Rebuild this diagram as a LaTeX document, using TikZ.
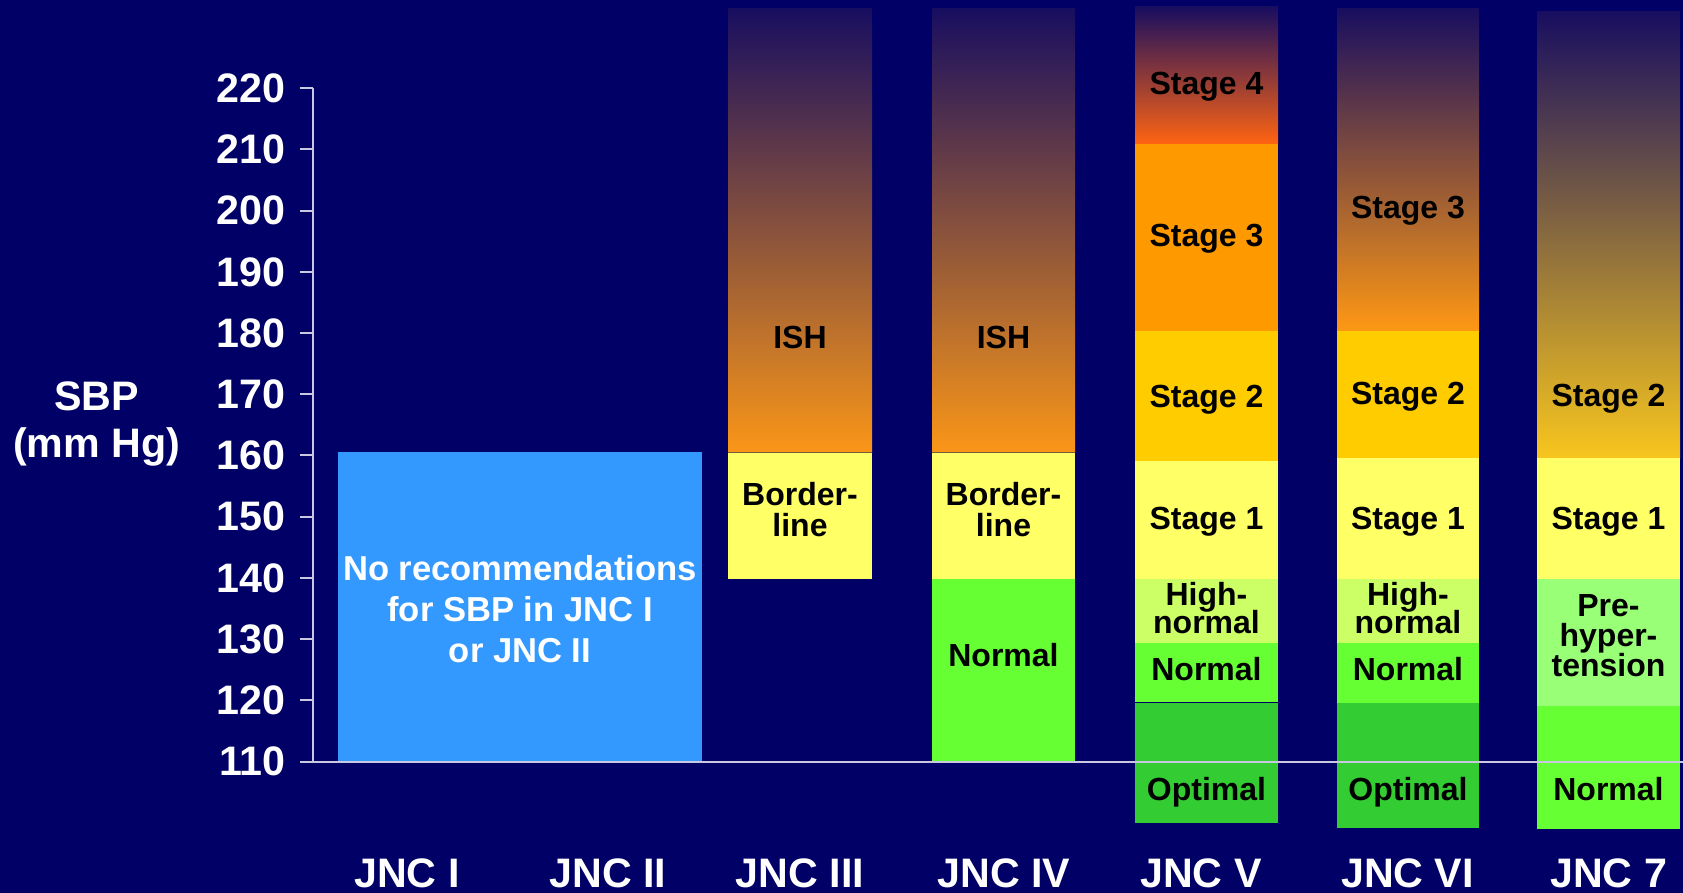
\documentclass[tikz,border=0pt]{standalone}
\usepackage{fontspec}
\setmainfont{Liberation Sans}
\definecolor{bg}{RGB}{0,0,102}
\definecolor{axisc}{RGB}{200,200,225}
\definecolor{nobox}{RGB}{51,153,255}
\definecolor{gtop}{RGB}{24,14,96}
\definecolor{ishmid}{RGB}{182,106,80}
\definecolor{ishbot}{RGB}{250,150,24}
\definecolor{s4mid}{RGB}{190,74,80}
\definecolor{s4bot}{RGB}{255,100,18}
\definecolor{s3}{RGB}{255,153,0}
\definecolor{s3mid}{RGB}{160,98,86}
\definecolor{s3bot}{RGB}{255,152,20}
\definecolor{s2}{RGB}{255,204,0}
\definecolor{s2mid}{RGB}{145,118,90}
\definecolor{s2bot}{RGB}{248,198,30}
\definecolor{s1}{RGB}{255,255,102}
\definecolor{hn}{RGB}{204,255,102}
\definecolor{nrm}{RGB}{102,255,51}
\definecolor{opt}{RGB}{51,204,51}
\definecolor{pre}{RGB}{153,255,119}
\definecolor{edge}{RGB}{120,90,60}
\begin{document}
\begin{tikzpicture}[x=0.5pt,y=-0.5pt,
  lbl/.style={font=\fontsize{16}{16}\selectfont\bfseries, text=black, inner sep=0pt, anchor=base},
  wlbl/.style={font=\fontsize{17.3}{20}\selectfont\bfseries, text=white, inner sep=0pt, anchor=base},
  ticklbl/.style={font=\fontsize{20.6}{24}\selectfont\bfseries, text=white, inner sep=0pt, anchor=east},
  axlbl/.style={font=\fontsize{20.6}{24}\selectfont\bfseries, text=white, inner sep=0pt, anchor=base},
  axisline/.style={draw=axisc, line width=1pt},
  sepline/.style={draw=edge, line width=0.5pt}]
\useasboundingbox (0,0) rectangle (1683,893);
\fill[bg] (0,0) rectangle (1683,893);

% JNC I / II
\fill[nobox] (338,452.3) rectangle (702,760.7);
\node[wlbl] (no1) at (520,580) {No recommendations};
\node[wlbl] (no2) at (520,621) {for SBP in JNC I};
\node[wlbl] (no3) at (520,662.7) {or JNC II};

% JNC III
\shade[top color=gtop, middle color=ishmid, bottom color=ishbot] (728,8.3) rectangle (872,452.5);
\fill[s1] (728,452.5) rectangle (872,578.5);
\draw[sepline] (728,452.5) -- (872,452.5);
\node[lbl] (ish3) at (800,348.3) {ISH};
\node[lbl] (bl3a) at (800,505) {Border-};
\node[lbl] (bl3b) at (800,536.7) {line};

% JNC IV
\shade[top color=gtop, middle color=ishmid, bottom color=ishbot] (932,8.3) rectangle (1075,452.5);
\fill[s1] (932,452.5) rectangle (1075,578.5);
\fill[nrm] (932,578.5) rectangle (1075,761.5);
\draw[sepline] (932,452.5) -- (1075,452.5);
\node[lbl] (ish4) at (1003.5,348.3) {ISH};
\node[lbl] (bl4a) at (1003.5,505) {Border-};
\node[lbl] (bl4b) at (1003.5,536.7) {line};
\node[lbl] (n4) at (1003.5,666.7) {Normal};

% JNC V
\shade[top color=gtop, middle color=s4mid, bottom color=s4bot] (1135,6.7) rectangle (1278,144);
\fill[s3] (1135,144) rectangle (1278,331.5);
\fill[s2] (1135,331.5) rectangle (1278,461);
\fill[s1] (1135,461) rectangle (1278,578.7);
\fill[hn] (1135,578.7) rectangle (1278,642.7);
\fill[nrm] (1135,642.7) rectangle (1278,702.5);
\fill[opt] (1135,702.5) rectangle (1278,822.7);
\draw[draw=bg, line width=0.6pt] (1135,702.5) -- (1278,702.5);
\node[lbl] (v4) at (1206.5,95) {Stage 4};
\node[lbl] (v3) at (1206.5,246.7) {Stage 3};
\node[lbl] (v2) at (1206.5,407.3) {Stage 2};
\node[lbl] (v1) at (1206.5,529.3) {Stage 1};
\node[lbl] (vh1) at (1206.5,605) {High-};
\node[lbl] (vh2) at (1206.5,633.3) {normal};
\node[lbl] (vn) at (1206.5,680) {Normal};
\node[lbl] (vo) at (1206.5,800.7) {Optimal};

% JNC VI
\shade[top color=gtop, middle color=s3mid, bottom color=s3bot] (1337,8.3) rectangle (1479,331.5);
\fill[s2] (1337,331.5) rectangle (1479,458.3);
\fill[s1] (1337,458.3) rectangle (1479,578.7);
\fill[hn] (1337,578.7) rectangle (1479,642.7);
\fill[nrm] (1337,642.7) rectangle (1479,703.3);
\fill[opt] (1337,703.3) rectangle (1479,827.7);
\node[lbl] (w3) at (1408,218.3) {Stage 3};
\node[lbl] (w2) at (1408,405) {Stage 2};
\node[lbl] (w1) at (1408,529.3) {Stage 1};
\node[lbl] (wh1) at (1408,605) {High-};
\node[lbl] (wh2) at (1408,633.3) {normal};
\node[lbl] (wn) at (1408,680) {Normal};
\node[lbl] (wo) at (1408,800.7) {Optimal};

% JNC 7
\shade[top color=gtop, middle color=s2mid, bottom color=s2bot] (1537,11.7) rectangle (1680,458.3);
\fill[s1] (1537,458.3) rectangle (1680,578.7);
\fill[pre] (1537,578.7) rectangle (1680,705.7);
\fill[nrm] (1537,705.7) rectangle (1680,829.3);
\node[lbl] (z2) at (1608.5,406.5) {Stage 2};
\node[lbl] (z1) at (1608.5,529.3) {Stage 1};
\node[lbl] (zp1) at (1608.5,616.7) {Pre-};
\node[lbl] (zp2) at (1608.5,646.7) {hyper-};
\node[lbl] (zp3) at (1608.5,676) {tension};
\node[lbl] (zn) at (1608.5,800.7) {Normal};

% axes
\draw[axisline] (312.5,88.3) -- (312.5,761.5);
\draw[axisline] (300,761.5) -- (1683,761.5);
\foreach \v in {110,120,...,220} {
  \draw[axisline] (300,{761.5-(\v-110)*6.12}) -- (312.5,{761.5-(\v-110)*6.12});
  \node[ticklbl] (t\v) at (286,{761.5-(\v-110)*6.12}) {\v};
}
\node[axlbl] (sbp1) at (96.6,411) {SBP};
\node[axlbl] (sbp2) at (96.6,458) {(mm Hg)};

% column labels
\node[axlbl] (j1) at (407,887.5) {JNC I};
\node[axlbl] (j2) at (608,887.5) {JNC II};
\node[axlbl] (j3) at (800,887.5) {JNC III};
\node[axlbl] (j4) at (1004,887.5) {JNC IV};
\node[axlbl] (j5) at (1201,887.5) {JNC V};
\node[axlbl] (j6) at (1407.5,887.5) {JNC VI};
\node[axlbl] (j7) at (1608.7,887.5) {JNC 7};
\end{tikzpicture}
\end{document}
